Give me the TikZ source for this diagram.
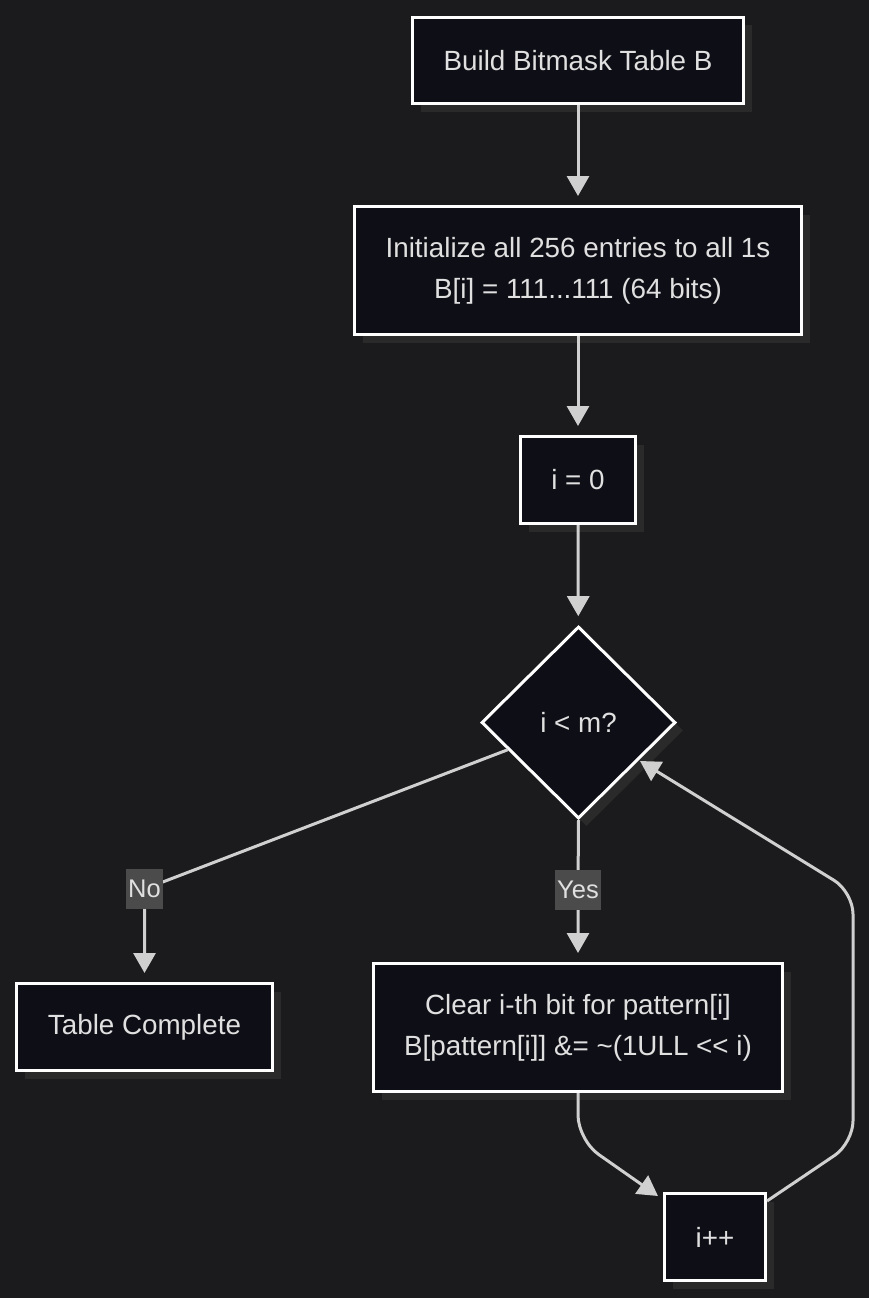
\documentclass[tikz,border=0pt]{standalone}
\usepackage{fontspec}
\setmainfont{Liberation Sans}
\usetikzlibrary{arrows.meta,shapes.geometric,shadows,calc}
\definecolor{bgc}{HTML}{1B1B1D}
\definecolor{nodec}{HTML}{0E0E16}
\definecolor{shadowc}{HTML}{2A2A2B}
\definecolor{textc}{HTML}{E0E0E0}
\definecolor{edgec}{HTML}{D0D0D0}
\definecolor{lblc}{HTML}{4B4B4B}
\begin{document}
\begin{tikzpicture}[x=1pt,y=-1pt,
  box/.style={draw=white, line width=3pt, fill=nodec, text=textc,
    font=\fontsize{27.8}{41}\selectfont, align=center, inner sep=0pt,
    drop shadow={shadow xshift=8pt, shadow yshift=-8pt, fill=shadowc, opacity=1}},
  dia/.style={box, diamond, aspect=1},
  edge/.style={draw=edgec, line width=3pt, -{Triangle[length=20pt,width=22pt]}, shorten >=9pt},
  lbl/.style={fill=lblc, text=textc, font=\fontsize{25.5}{30}\selectfont, inner sep=2pt, minimum height=40pt}]
\fill[bgc] (0,0) rectangle (869,1298);
\useasboundingbox (0,0) rectangle (869,1298);

\node[box, minimum width=331pt, minimum height=86pt] (b1) at (578,60.5) {Build Bitmask Table B};
\node[box, minimum width=447pt, minimum height=128pt] (b2) at (578,270.5) {Initialize all 256 entries to all 1s\\B[i] = 111...111 (64 bits)};
\node[box, minimum width=115pt, minimum height=87pt] (b3) at (578,480) {i = 0};
\node[dia, minimum width=194pt, minimum height=192pt] (d) at (578.5,722.5) {i {<} m?};
\node[box, minimum width=256pt, minimum height=87pt] (tc) at (144.5,1027) {Table Complete};
\node[box, minimum width=409pt, minimum height=128pt] (cl) at (578,1027.5) {Clear i-th bit for pattern[i]\\B[pattern[i]] \&= \textasciitilde(1ULL {<}{<} i)};
\node[box, minimum width=101pt, minimum height=87pt] (ip) at (715,1237) {i++};

\coordinate (nopos) at (144.5,889);
\coordinate (yespos) at (578,890);
\coordinate (dno) at ($(d.west)!0.28!(d.south)$);
\coordinate (c1) at (578,1140);
\coordinate (tipA) at ($(ip.north west)+(-5,4)$);
\coordinate (ls) at ($(ip.north east)+(0,9)$);
\coordinate (lc1) at (853,1143);
\coordinate (lc2) at (853,892);
\coordinate (ltip) at (640,761);

\draw[edge] (b1) -- (b2);
\draw[edge] (b2) -- (b3);
\draw[edge] (b3) -- (d);
\draw[edge, rounded corners=6pt] (dno) -- (nopos) -- (tc.north);
\draw[edge] (d.south) -- (yespos) -- (cl.north);
\draw[edge, rounded corners=25pt, shorten >=0pt] (cl.south) -- (c1) -- (tipA);
\draw[edge, rounded corners=22pt, shorten >=0pt] (ls) -- (lc1) -- (lc2) -- (ltip);

\node[lbl] (no) at (nopos) {No};
\node[lbl] (yes) at (yespos) {Yes};
\end{tikzpicture}
\end{document}
